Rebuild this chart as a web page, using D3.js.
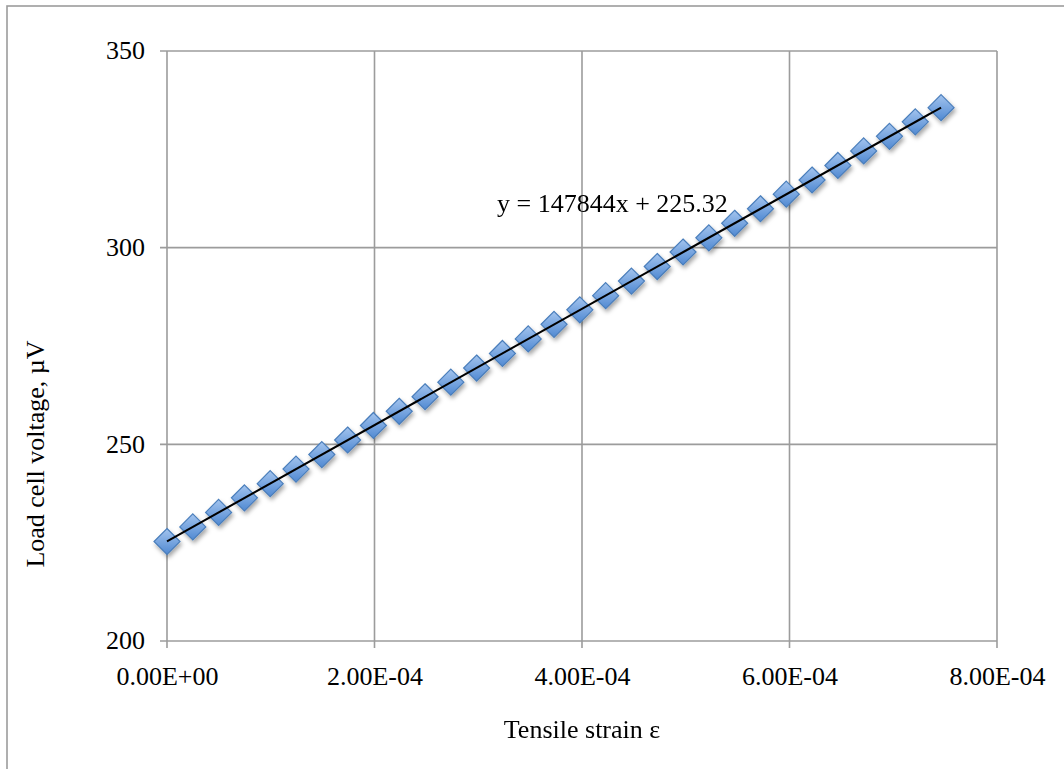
<!DOCTYPE html>
<html>
<head>
<meta charset="utf-8">
<script src="https://cdn.jsdelivr.net/npm/d3@7/dist/d3.min.js"></script>
<style>
html, body { margin: 0; padding: 0; background: #fff; }
svg { display: block; }
text { font-family: "Liberation Serif", "Times New Roman", serif; fill: #000; }
</style>
</head>
<body>
<svg id="chart" width="1064" height="769"></svg>
<script>
// Data
const strain = [0, 2.487e-5, 4.974e-5, 7.461e-5, 9.948e-5, 1.2435e-4, 1.4922e-4, 1.7409e-4,
  1.9896e-4, 2.2383e-4, 2.487e-4, 2.7357e-4, 2.9844e-4, 3.2331e-4, 3.4818e-4, 3.7305e-4,
  3.9792e-4, 4.2279e-4, 4.4766e-4, 4.7253e-4, 4.974e-4, 5.2227e-4, 5.4714e-4, 5.7201e-4,
  5.9688e-4, 6.2175e-4, 6.4662e-4, 6.7149e-4, 6.9636e-4, 7.2123e-4, 7.461e-4];
const voltage = [225.3, 229.0, 232.7, 236.4, 240.0, 243.7, 247.4, 251.1,
  254.8, 258.4, 262.1, 265.8, 269.4, 273.1, 276.8, 280.5,
  284.2, 287.8, 291.5, 295.2, 298.9, 302.5, 306.2, 309.9,
  313.6, 317.2, 320.9, 324.6, 328.3, 332.0, 335.6];
const xTicks = [0, 2e-4, 4e-4, 6e-4, 8e-4];
const xTickLabels = ["0.00E+00", "2.00E-04", "4.00E-04", "6.00E-04", "8.00E-04"];
const yTicks = [200, 250, 300, 350];
const trendSlope = 147844;
const trendIntercept = 225.32;
const equationText = "y = 147844x + 225.32";
const xTitle = "Tensile strain ε";
const yTitle = "Load cell voltage, µV";

const svg = d3.select("#chart");
const pL = 167, pR = 997, pT = 51, pB = 641;

const x = d3.scaleLinear().domain([0, 8e-4]).range([pL, pR]);
const y = d3.scaleLinear().domain([200, 350]).range([pB, pT]);

// outer chart border (extends beyond the page on right/bottom)
svg.append("rect").attr("x", 7).attr("y", 6).attr("width", 1200).attr("height", 900)
  .attr("fill", "#fff").attr("stroke", "#9c9c9c").attr("stroke-width", 1.6);

const defs = svg.append("defs");
const grad = defs.append("linearGradient").attr("id", "mk").attr("x1", 0).attr("y1", 0).attr("x2", 0).attr("y2", 1);
grad.append("stop").attr("offset", "0%").attr("stop-color", "#a3c4ee");
grad.append("stop").attr("offset", "100%").attr("stop-color", "#5089d2");
const f = defs.append("filter").attr("id", "sh").attr("x", "-50%").attr("y", "-50%").attr("width", "200%").attr("height", "200%");
f.append("feDropShadow").attr("dx", 1.5).attr("dy", 3).attr("stdDeviation", 2)
  .attr("flood-color", "#000").attr("flood-opacity", 0.35);

const gridColor = "#9c9c9c";
// gridlines
svg.append("g").selectAll("line").data(yTicks).join("line")
  .attr("x1", pL - 7).attr("x2", pR).attr("y1", d => y(d)).attr("y2", d => y(d))
  .attr("stroke", gridColor).attr("stroke-width", 1.6);
svg.append("g").selectAll("line").data(xTicks).join("line")
  .attr("y1", pT).attr("y2", pB + 7).attr("x1", d => x(d)).attr("x2", d => x(d))
  .attr("stroke", gridColor).attr("stroke-width", 1.6);

// axes labels via d3 axes (lines hidden, labels only)
const yAxis = svg.append("g").attr("transform", `translate(${pL - 22},0)`)
  .call(d3.axisLeft(y).tickValues(yTicks).tickSize(0).tickPadding(0));
yAxis.select(".domain").remove();
yAxis.selectAll("text").attr("font-size", 26).attr("dy", "0.3em")
  .style("font-family", '"Liberation Serif", serif').attr("fill", "#000");

const xAxis = svg.append("g").attr("transform", `translate(0,${pB})`)
  .call(d3.axisBottom(x).tickValues(xTicks).tickFormat((d, i) => xTickLabels[i]).tickSize(0).tickPadding(0));
xAxis.select(".domain").remove();
xAxis.selectAll("text").attr("font-size", 26).attr("dy", null).attr("y", 44)
  .style("font-family", '"Liberation Serif", serif').attr("fill", "#000");

// markers
const s = 13;
const pts = strain.map((d, i) => [d, voltage[i]]);
svg.append("g").attr("filter", "url(#sh)").selectAll("path").data(pts).join("path")
  .attr("d", `M0,${-s}L${s},0L0,${s}L${-s},0Z`)
  .attr("transform", d => `translate(${x(d[0])},${y(d[1])})`)
  .attr("fill", "url(#mk)").attr("stroke", "#4a7ebb").attr("stroke-width", 1.2);

// trendline
const xMin = d3.min(strain), xMax = d3.max(strain);
svg.append("line")
  .attr("x1", x(xMin)).attr("y1", y(trendSlope * xMin + trendIntercept))
  .attr("x2", x(xMax)).attr("y2", y(trendSlope * xMax + trendIntercept))
  .attr("stroke", "#000").attr("stroke-width", 2);

// equation
svg.append("text").attr("x", 497).attr("y", 212).attr("font-size", 26).text(equationText);

// titles
svg.append("text").attr("x", (pL + pR) / 2).attr("y", 738).attr("text-anchor", "middle")
  .attr("font-size", 26).text(xTitle);
svg.append("text").attr("transform", `translate(44,454) rotate(-90)`)
  .attr("text-anchor", "middle").attr("font-size", 26).text(yTitle);
</script>
</body>
</html>
